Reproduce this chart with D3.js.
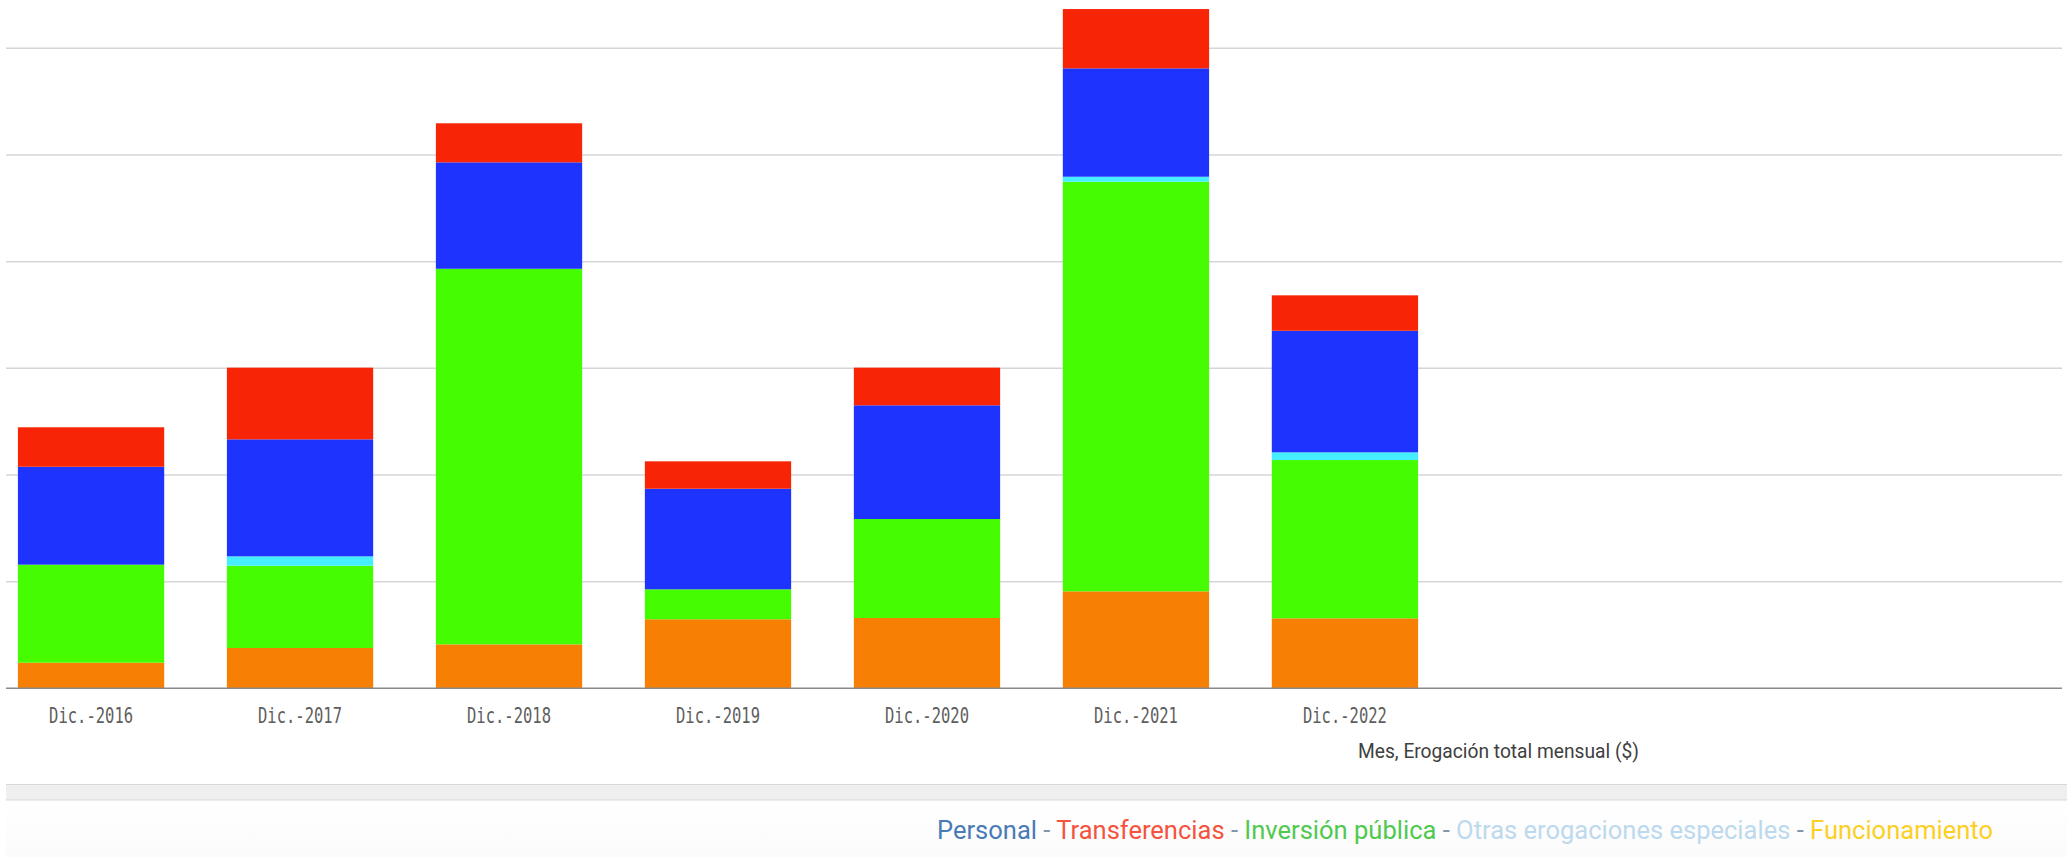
<!DOCTYPE html>
<html>
<head>
<meta charset="utf-8">
<script src="https://cdn.jsdelivr.net/npm/d3@7"></script>
<style>
  html, body { margin: 0; padding: 0; background: #ffffff; }
  svg { display: block; }
</style>
</head>
<body>
<svg id="chart" width="2067" height="857"></svg>
<script>
// ---- Data (arbitrary units, gridline step = 100) ----
const categories = ["Dic.-2016", "Dic.-2017", "Dic.-2018", "Dic.-2019", "Dic.-2020", "Dic.-2021", "Dic.-2022"];
const funcionamiento = [24.0, 37.8, 41.2, 64.7, 65.9, 90.9, 65.6];
const inversionPublica = [91.9, 77.1, 352.1, 28.1, 92.8, 384.0, 148.4];
const otrasErogaciones = [0, 8.8, 0, 0, 0, 4.7, 7.2];
const personal = [91.8, 109.7, 99.8, 94.3, 106.6, 101.6, 114.0];
const transferencias = [37.0, 67.2, 36.6, 25.7, 35.3, 55.6, 33.2];
const gridTicks = [0, 100, 200, 300, 400, 500, 600];

const seriesNames = ["Funcionamiento", "Inversión pública", "Otras erogaciones especiales", "Personal", "Transferencias"];
const barColors = {
  "Funcionamiento": "#f77f04",
  "Inversión pública": "#45fd00",
  "Otras erogaciones especiales": "#45efff",
  "Personal": "#1f33ff",
  "Transferencias": "#f72505"
};
const legendOrder = ["Personal", "Transferencias", "Inversión pública", "Otras erogaciones especiales", "Funcionamiento"];
const legendColors = {
  "Personal": "#4a7bb6",
  "Transferencias": "#f5533d",
  "Inversión pública": "#4fc94f",
  "Otras erogaciones especiales": "#bcd9ee",
  "Funcionamiento": "#fccf25"
};

// ---- Build table ----
const table = categories.map((c, i) => ({
  cat: c,
  "Funcionamiento": funcionamiento[i],
  "Inversión pública": inversionPublica[i],
  "Otras erogaciones especiales": otrasErogaciones[i],
  "Personal": personal[i],
  "Transferencias": transferencias[i]
}));
const stacked = d3.stack().keys(seriesNames)(table);

const svg = d3.select("#chart");

// ---- Scales ----
const x = d3.scaleBand().domain(categories).range([6, 1430]).paddingInner(0.3).paddingOuter(0.057);
const y = d3.scaleLinear().domain([0, 600]).range([688.3, 48.3]);
const plotLeft = 6, plotRight = 2062;

// ---- Gridlines ----
svg.append("g")
  .selectAll("line")
  .data(gridTicks.filter(d => d > 0))
  .join("line")
  .attr("x1", plotLeft).attr("x2", plotRight)
  .attr("y1", d => y(d)).attr("y2", d => y(d))
  .attr("stroke", "#d6d6d6").attr("stroke-width", 1.5);

// ---- Bars ----
svg.append("g")
  .selectAll("g")
  .data(stacked)
  .join("g")
  .attr("fill", d => barColors[d.key])
  .selectAll("rect")
  .data(d => d)
  .join("rect")
  .attr("x", d => x(d.data.cat))
  .attr("width", x.bandwidth())
  .attr("y", d => y(d[1]))
  .attr("height", d => Math.max(0, y(d[0]) - y(d[1])));

// ---- Baseline ----
svg.append("line")
  .attr("x1", plotLeft).attr("x2", plotRight)
  .attr("y1", y(0)).attr("y2", y(0))
  .attr("stroke", "#8a8a8a").attr("stroke-width", 1.5);

// ---- X axis labels ----
const xAxis = d3.axisBottom(x).tickSize(0).tickPadding(0);
const gx = svg.append("g").attr("transform", `translate(0,${y(0)})`).call(xAxis);
gx.select(".domain").remove();
gx.selectAll("text")
  .attr("y", 34.5)
  .attr("dy", null)
  .attr("fill", "#5e5e5e")
  .attr("font-family", "'DejaVu Sans Mono', monospace")
  .attr("font-size", 22)
  .attr("textLength", 84)
  .attr("lengthAdjust", "spacingAndGlyphs");

// ---- Axis title ----
svg.append("text")
  .attr("x", 1358).attr("y", 758)
  .attr("fill", "#404040")
  .attr("font-family", "Roboto, sans-serif")
  .attr("font-size", 20)
  .attr("textLength", 281)
  .attr("lengthAdjust", "spacingAndGlyphs")
  .text("Mes, Erogación total mensual ($)");

// ---- Separator band ----
svg.append("rect")
  .attr("x", plotLeft).attr("y", 784.5).attr("width", 2067 - plotLeft).attr("height", 15.5)
  .attr("fill", "#efefef");
svg.append("line").attr("x1", plotLeft).attr("x2", 2067).attr("y1", 784.5).attr("y2", 784.5)
  .attr("stroke", "#d8d8d8").attr("stroke-width", 1.2);
svg.append("line").attr("x1", plotLeft).attr("x2", 2067).attr("y1", 800).attr("y2", 800)
  .attr("stroke", "#d8d8d8").attr("stroke-width", 1.2);

// ---- Legend area background ----
const defs = svg.append("defs");
const grad = defs.append("linearGradient").attr("id", "legbg").attr("x1", 0).attr("y1", 0).attr("x2", 0).attr("y2", 1);
grad.append("stop").attr("offset", "0%").attr("stop-color", "#ffffff");
grad.append("stop").attr("offset", "100%").attr("stop-color", "#fbfbfb");
svg.append("rect").attr("x", plotLeft).attr("y", 801).attr("width", 2067 - plotLeft).attr("height", 56)
  .attr("fill", "url(#legbg)");

// ---- Legend ----
const leg = svg.append("text")
  .attr("x", 937).attr("y", 838.5)
  .attr("font-family", "Roboto, sans-serif")
  .attr("font-size", 25)
  .attr("textLength", 1056)
  .attr("lengthAdjust", "spacingAndGlyphs");
legendOrder.forEach((name, i) => {
  if (i > 0) leg.append("tspan").attr("fill", "#7f96ad").text(" - ");
  leg.append("tspan").attr("fill", legendColors[name]).text(name);
});
</script>
</body>
</html>
